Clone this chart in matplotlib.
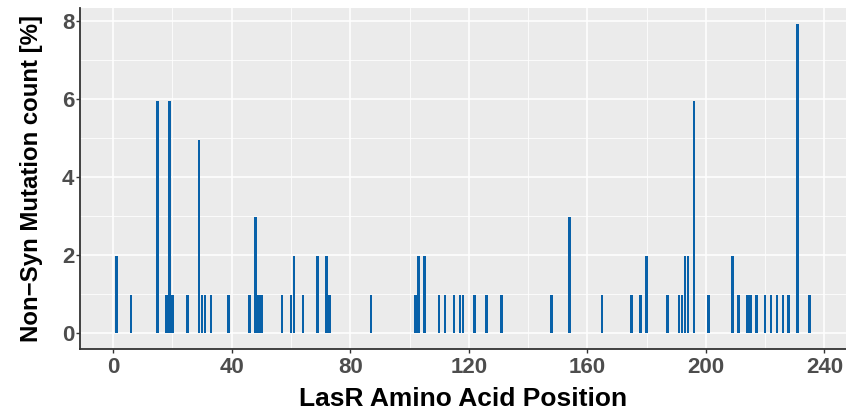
import matplotlib.pyplot as plt
from matplotlib import font_manager
import numpy as np

# LasR positions and number of isolates carrying a non-synonymous change there
positions = [1, 6, 15, 18, 19, 20, 25, 29, 30, 31, 33, 39, 46, 48, 49, 50,
             57, 60, 61, 64, 69, 72, 73, 87, 102, 103, 105, 110, 112, 115,
             117, 118, 122, 126, 131, 148, 154, 165, 175, 178, 180, 187,
             191, 192, 193, 194, 196, 201, 209, 211, 214, 215, 217, 220,
             222, 224, 226, 228, 231, 235]
counts = [2, 1, 6, 1, 6, 1, 1, 5, 1, 1, 1, 1, 1, 3, 1, 1,
          1, 1, 2, 1, 2, 2, 1, 1, 1, 2, 2, 1, 1, 1,
          1, 1, 1, 1, 1, 1, 3, 1, 1, 1, 2, 1,
          1, 1, 2, 2, 6, 1, 2, 1, 1, 1, 1, 1,
          1, 1, 1, 1, 8, 1]
n_isolates = 101

x_ticks = [0, 40, 80, 120, 160, 200, 240]
y_ticks = [0, 2, 4, 6, 8]

pct = np.array(counts) / n_isolates * 100

names = {f.name for f in font_manager.fontManager.ttflist}
fam = 'Liberation Sans Narrow' if 'Liberation Sans Narrow' in names else 'Liberation Sans'
plt.rcParams['font.family'] = [fam, 'DejaVu Sans']

fig = plt.figure(figsize=(8.46, 4.09), dpi=100)
ax = fig.add_axes([0.0946, 0.147, 0.905, 0.833])
ax.set_facecolor('#EBEBEB')

ax.bar(positions, pct, width=0.9, color='#0861A9', zorder=3)

ax.set_xlim(-11.2, 247.2)
ax.set_ylim(-0.396, 8.32)
ax.set_xticks(x_ticks)
ax.set_yticks(y_ticks)
ax.set_xticks(np.arange(20, 240, 40), minor=True)
ax.set_yticks(np.arange(1, 9, 2), minor=True)
ax.grid(which='major', color='white', linewidth=1.1, zorder=0)
ax.grid(which='minor', color='white', linewidth=0.55, zorder=0)
ax.tick_params(which='minor', length=0)
ax.tick_params(which='major', length=3, color='#333333', width=1,
               labelsize=16, labelcolor='#4D4D4D')
ax.tick_params(axis='y', pad=1)
ax.tick_params(axis='x', pad=3)
for lab in ax.get_xticklabels() + ax.get_yticklabels():
    lab.set_fontweight('bold')

for side in ['top', 'right']:
    ax.spines[side].set_visible(False)
for side in ['left', 'bottom']:
    ax.spines[side].set_color('#333333')
    ax.spines[side].set_linewidth(1.3)

ax.set_xlabel('LasR Amino Acid Position', fontsize=19, fontweight='bold', labelpad=6)
ax.set_ylabel('Non\u2212Syn Mutation count [%]', fontsize=17.3, fontweight='bold', labelpad=14)

fig.savefig('out.png', dpi=100)
